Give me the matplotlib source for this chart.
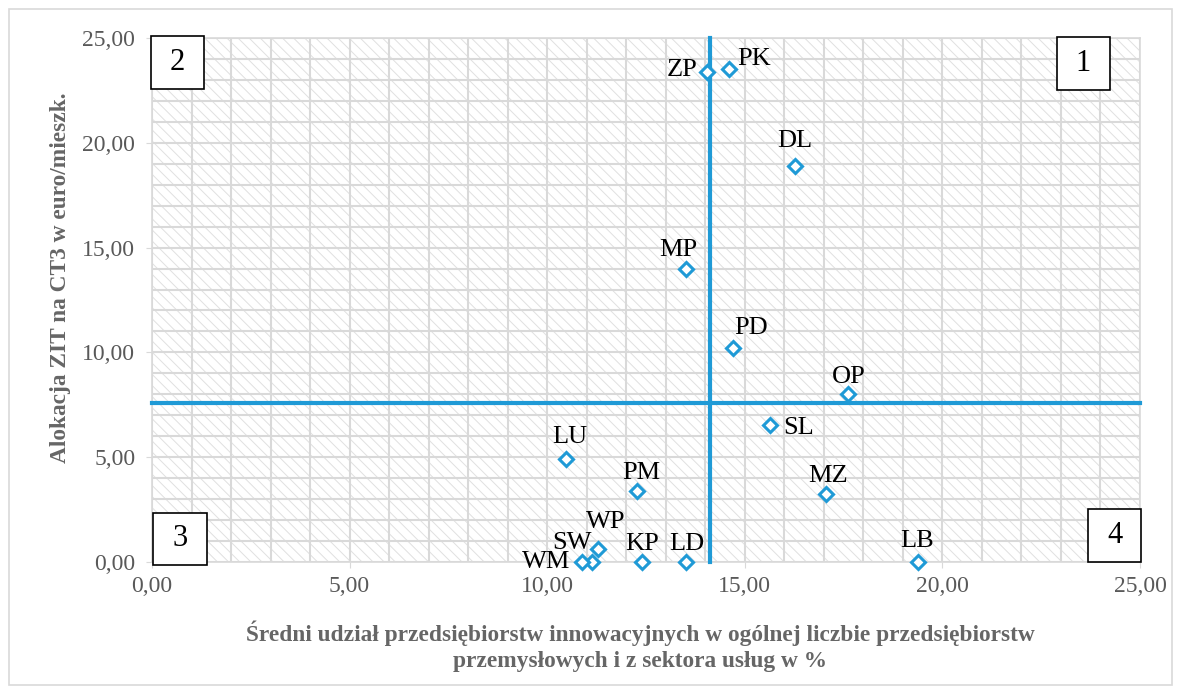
import matplotlib
matplotlib.use("Agg")
import matplotlib.pyplot as plt
from matplotlib.patches import Rectangle
from matplotlib.ticker import MultipleLocator, FuncFormatter

# data
regions = ["ZP", "PK", "DL", "MP", "PD", "OP", "SL", "MZ", "LB",
           "LU", "PM", "WP", "SW", "WM", "KP", "LD"]
innov_share = [14.05, 14.59, 16.26, 13.52, 14.69, 17.62, 15.64, 17.05, 19.37,
               10.48, 12.27, 11.29, 11.13, 10.88, 12.40, 13.52]
zit_alloc = [23.36, 23.50, 18.91, 13.96, 10.22, 8.00, 6.55, 3.26, 0.00,
             4.91, 3.40, 0.62, 0.00, 0.00, 0.00, 0.00]
avg_x = 14.13
avg_y = 7.57
quadrants = ["1", "2", "3", "4"]

# label placement (offset in px, alignment)
label_pos = {
    "ZP": (-10, 2, "right"), "PK": (9, 10, "left"), "DL": (0, 25, "center"),
    "MP": (-8, 19, "center"), "PD": (18, 20, "center"), "OP": (0, 17, "center"),
    "SL": (13, -3, "left"), "MZ": (2, 18, "center"), "LB": (0, 21, "center"),
    "LU": (4, 22, "center"), "PM": (4, 18, "center"), "WP": (8, 27, "center"),
    "SW": (-20, 19, "center"), "WM": (-12, 0, "right"), "KP": (0, 18, "center"),
    "LD": (0, 18, "center"),
}

blue = "#1f9ad6"
grey_txt = "#666666"
grid_c = "#d9d9d9"

plt.rcParams["font.family"] = ["Liberation Serif", "DejaVu Serif"]
plt.rcParams["hatch.linewidth"] = 0.7

W, H = 1181, 693
fig = plt.figure(figsize=(W / 100, H / 100), dpi=100)
ax = fig.add_axes([152 / W, 1 - 562 / H, (1140 - 152) / W, (562 - 38) / H])

# hatched plot area
ax.add_patch(Rectangle((0, 0), 1, 1, transform=ax.transAxes, facecolor="white",
                       edgecolor="#e0e0e0", lw=0, hatch="\\\\\\", zorder=0))

ax.set_xlim(0, 25)
ax.set_ylim(0, 25)
ax.xaxis.set_major_locator(MultipleLocator(5))
ax.yaxis.set_major_locator(MultipleLocator(5))
ax.xaxis.set_minor_locator(MultipleLocator(1))
ax.yaxis.set_minor_locator(MultipleLocator(1))
fmt = FuncFormatter(lambda v, p: f"{v:.2f}".replace(".", ","))
ax.xaxis.set_major_formatter(fmt)
ax.yaxis.set_major_formatter(fmt)
ax.set_axisbelow(True)
ax.grid(True, which="both", color=grid_c, lw=1.5)
for s in ax.spines.values():
    s.set_color(grid_c)
    s.set_linewidth(1.2)
ax.tick_params(which="major", length=4, color=grid_c, labelsize=17,
               labelcolor="#595959")
ax.tick_params(axis="x", which="major", pad=6)
ax.tick_params(axis="y", which="major", pad=8)
ax.tick_params(which="minor", length=0)

# average lines
ax.plot([avg_x, avg_x], [0, 25], color=blue, lw=3, zorder=3, clip_on=False)
ax.plot([0, 25], [avg_y, avg_y], color=blue, lw=3, zorder=3, clip_on=False)

ax.plot(innov_share, zit_alloc, linestyle="none", marker="D", ms=7,
        mfc="white", mec=blue, mew=2.2, zorder=4, clip_on=False)

for name, x, y in zip(regions, innov_share, zit_alloc):
    dx, dy, ha = label_pos[name]
    ax.annotate(name, (x, y), xytext=(dx * 0.72, dy * 0.72),
                textcoords="offset points", ha=ha, va="center",
                fontsize=19, color="black", zorder=5)

ax.set_xlabel("Średni udział przedsiębiorstw innowacyjnych w ogólnej liczbie przedsiębiorstw\n"
              "przemysłowych i z sektora usług w %",
              fontsize=16.8, fontweight="bold", color=grey_txt,
              linespacing=1.3)
ax.xaxis.set_label_coords(0.494, -0.112)
ax.set_ylabel("Alokacja ZIT na CT3 w euro/mieszk.", fontsize=16.8,
              fontweight="bold", color=grey_txt)
ax.yaxis.set_label_coords(-0.082, 0.542)

# quadrant number boxes (pixel boxes)
boxes = [(1057, 37, 1110, 90), (151, 36, 204, 89), (153, 513, 207, 565),
         (1088, 509, 1141, 562)]
for q, (x0, y0, x1, y1) in zip(quadrants, boxes):
    fig.add_artist(Rectangle((x0 / W, 1 - y1 / H), (x1 - x0) / W, (y1 - y0) / H,
                             transform=fig.transFigure, facecolor="white",
                             edgecolor="black", lw=1.2, zorder=6))
    fig.text((x0 + x1) / 2 / W, 1 - (y0 + y1) / 2 / H, q, ha="center",
             va="center", fontsize=22, zorder=7)

# chart frame
fig.add_artist(Rectangle((9 / W, 8 / H), (1172 - 9) / W, (685 - 9) / H,
                         transform=fig.transFigure, fill=False,
                         edgecolor=grid_c, lw=1.2))

fig.savefig("out.png", dpi=100)
